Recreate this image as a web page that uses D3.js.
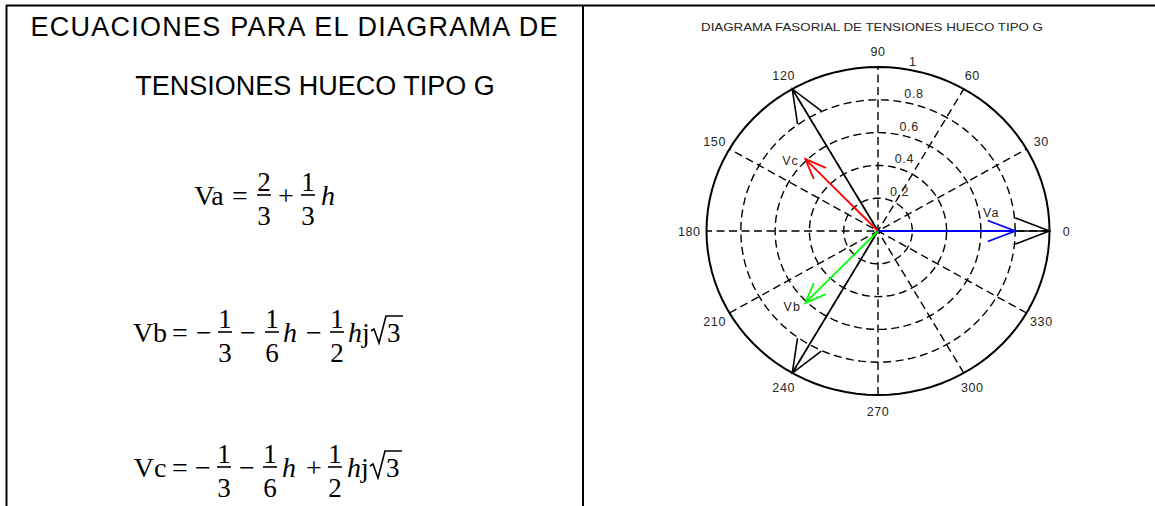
<!DOCTYPE html>
<html>
<head>
<meta charset="utf-8">
<script src="https://cdn.jsdelivr.net/npm/d3@7/dist/d3.min.js"></script>
<style>
    html, body { margin: 0; padding: 0; background: #fff; }
    svg { display: block; }
    .title-left { font-family: "Liberation Sans", Arial, sans-serif; fill: #000; }
    .eq { font-family: "Liberation Serif", "Times New Roman", serif; fill: #000; }
    .polar-text { font-family: "Liberation Sans", Arial, sans-serif; fill: #262626; }
</style>
</head>
<body>
<script>
// phasors during the sag (magnitude, angle in degrees)
var phasorNames  = ['Va', 'Vb', 'Vc'];
var phasorMag    = [0.80, 0.61, 0.61];
var phasorAng    = [0, 226, 134];
// where the phasor names sit (x, y in per-unit)
var phasorLabelX = [0.66, -0.50, -0.51];
var phasorLabelY = [0.11, -0.46, 0.43];

// pre-fault phasors
var prefaultMag  = [1, 1, 1];
var prefaultAng  = [0, 120, 240];

// grid
var ringValues   = [0.2, 0.4, 0.6, 0.8, 1];
var spokeAngles  = [30, 60, 90, 120, 150, 180];

var phasorColor  = { Va: '#0000ff', Vb: '#00ff00', Vc: '#ff0000' };

var W = 1155, H = 506;

var svg = d3.select('body').append('svg')
    .attr('width', W)
    .attr('height', H)
;

// table borders
svg.append('line').attr('x1', 6).attr('x2', W).attr('y1', 5.5).attr('y2', 5.5)
    .attr('stroke', '#000').attr('stroke-width', 2);
svg.append('line').attr('x1', 6.5).attr('x2', 6.5).attr('y1', 5).attr('y2', H)
    .attr('stroke', '#000').attr('stroke-width', 2);
svg.append('line').attr('x1', 583).attr('x2', 583).attr('y1', 5).attr('y2', H)
    .attr('stroke', '#000').attr('stroke-width', 2);

// ---------- left cell: title + equations ----------
svg.append('text')
    .attr('class', 'title-left')
    .attr('x', 294).attr('y', 36)
    .attr('text-anchor', 'middle')
    .attr('font-size', 27)
    .attr('textLength', 527)
    .attr('lengthAdjust', 'spacing')
    .text('ECUACIONES PARA EL DIAGRAMA DE');

svg.append('text')
    .attr('class', 'title-left')
    .attr('x', 315).attr('y', 95)
    .attr('text-anchor', 'middle')
    .attr('font-size', 27)
    .text('TENSIONES HUECO TIPO G');

function equation(baseline, tokens) {
    var g = svg.append('g').attr('class', 'eq');
    tokens.forEach(function (t) {
        if (t.frac) {
            g.append('line')
                .attr('x1', t.x - 7).attr('x2', t.x + 7)
                .attr('y1', baseline - 10).attr('y2', baseline - 10)
                .attr('stroke', '#000').attr('stroke-width', 1.6);
            g.append('text').attr('x', t.x).attr('y', baseline - 14)
                .attr('text-anchor', 'middle').attr('font-size', 27).text(t.frac[0]);
            g.append('text').attr('x', t.x).attr('y', baseline + 20)
                .attr('text-anchor', 'middle').attr('font-size', 27).text(t.frac[1]);
        } else if (t.sqrt) {
            var x0 = t.x;
            g.append('path')
                .attr('d', `M${ x0 } ${ baseline - 11 } L${ x0 + 3 } ${ baseline - 13 } L${ x0 + 8 } ${ baseline + 1 } L${ x0 + 15 } ${ baseline - 26 } L${ x0 + 32 } ${ baseline - 26 }`)
                .attr('fill', 'none').attr('stroke', '#000').attr('stroke-width', 1.6);
            g.append('text').attr('x', x0 + 16).attr('y', baseline)
                .attr('font-size', 27).text(t.sqrt);
        } else {
            g.append('text').attr('x', t.x).attr('y', baseline)
                .attr('text-anchor', t.anchor || 'middle')
                .attr('font-size', 28)
                .attr('font-style', t.it ? 'italic' : null)
                .text(t.s);
        }
    });
}

equation(205, [
    { s: 'Va', x: 209 },
    { s: '=', x: 240 },
    { frac: ['2', '3'], x: 264 },
    { s: '+', x: 286 },
    { frac: ['1', '3'], x: 308 },
    { s: 'h', x: 328, it: true }
]);

equation(342, [
    { s: 'Vb', x: 150 },
    { s: '=', x: 180 },
    { s: '\u2212', x: 204 },
    { frac: ['1', '3'], x: 225 },
    { s: '\u2212', x: 248 },
    { frac: ['1', '6'], x: 272 },
    { s: 'h', x: 290, it: true },
    { s: '\u2212', x: 314 },
    { frac: ['1', '2'], x: 337 },
    { s: 'h', x: 355, it: true },
    { s: 'j', x: 366 },
    { sqrt: '3', x: 371 }
]);

equation(477, [
    { s: 'Vc', x: 150 },
    { s: '=', x: 180 },
    { s: '\u2212', x: 203 },
    { frac: ['1', '3'], x: 224 },
    { s: '\u2212', x: 247 },
    { frac: ['1', '6'], x: 270 },
    { s: 'h', x: 289, it: true },
    { s: '+', x: 314 },
    { frac: ['1', '2'], x: 335 },
    { s: 'h', x: 354, it: true },
    { s: 'j', x: 365 },
    { sqrt: '3', x: 370 }
]);

// ---------- right cell: polar phasor diagram ----------
var cx = 878, cy = 231, rx = 171.5, ry = 164;
var x = d3.scaleLinear().domain([-1, 1]).range([cx - rx, cx + rx]);
var y = d3.scaleLinear().domain([-1, 1]).range([cy + ry, cy - ry]);
var rad = d => d * Math.PI / 180;

var polar = svg.append('g').attr('class', 'polar');

svg.append('text')
    .attr('class', 'polar-text')
    .attr('x', 872).attr('y', 31)
    .attr('text-anchor', 'middle')
    .attr('font-size', 10.5)
    .attr('textLength', 342)
    .attr('lengthAdjust', 'spacingAndGlyphs')
    .text('DIAGRAMA FASORIAL DE TENSIONES HUECO TIPO G');

var circlePts = d3.range(0, 101).map(i => [Math.cos(i * Math.PI / 50), Math.sin(i * Math.PI / 50)]);
var ringLine = r => d3.line()
    .x(p => x(r * p[0]))
    .y(p => y(r * p[1]))(circlePts);

// outer circle
polar.append('path')
    .attr('d', ringLine(1))
    .attr('fill', 'none').attr('stroke', '#000').attr('stroke-width', 2);

// dashed rings
polar.selectAll('.ring')
    .data(ringValues.filter(r => r < 1))
    .enter().append('path')
    .attr('class', 'ring')
    .attr('d', r => ringLine(r))
    .attr('fill', 'none').attr('stroke', '#000').attr('stroke-width', 1.4)
    .attr('stroke-dasharray', '8,4.5')
;

// dashed spokes
polar.selectAll('.spoke')
    .data(spokeAngles)
    .enter().append('line')
    .attr('class', 'spoke')
    .attr('x1', a => x(-Math.cos(rad(a)))).attr('y1', a => y(-Math.sin(rad(a))))
    .attr('x2', a => x(Math.cos(rad(a)))).attr('y2', a => y(Math.sin(rad(a))))
    .attr('stroke', '#000').attr('stroke-width', 1.4)
    .attr('stroke-dasharray', '8,4.5')
;

// ring labels at 82 degrees
polar.selectAll('.ring-label')
    .data(ringValues)
    .enter().append('text')
    .attr('class', 'polar-text ring-label')
    .attr('x', r => x((r + 0.01) * Math.cos(rad(82))) + 7)
    .attr('y', r => y((r + 0.01) * Math.sin(rad(82))) - 1)
    .attr('font-size', 12.5)
    .attr('letter-spacing', 0.6)
    .text(r => String(r))
;

// angle labels
var angleLabels = spokeAngles.concat(spokeAngles.map(a => (a + 180) % 360));
polar.selectAll('.angle-label')
    .data(angleLabels)
    .enter().append('text')
    .attr('class', 'polar-text angle-label')
    .attr('x', a => x(1.1 * Math.cos(rad(a))))
    .attr('y', a => y(1.1 * Math.sin(rad(a))))
    .attr('dy', '0.4em')
    .attr('text-anchor', 'middle')
    .attr('font-size', 12.5)
    .attr('letter-spacing', 0.6)
    .text(a => String(a))
;

// compass-style arrow: shaft, head at 0.8 of length, half width 0.08
function arrowPath(mag, ang) {
    var c = mag * Math.cos(rad(ang)), s = mag * Math.sin(rad(ang));
    var pts = [[0, 0], [1, 0], [0.8, 0.08], [1, 0], [0.8, -0.08]].map(p => [
        p[0] * c - p[1] * s,
        p[0] * s + p[1] * c
    ]);
    return d3.line().x(p => x(p[0])).y(p => y(p[1]))(pts);
}

polar.selectAll('.prefault')
    .data(d3.range(prefaultMag.length))
    .enter().append('path')
    .attr('class', 'prefault')
    .attr('d', i => arrowPath(prefaultMag[i], prefaultAng[i]))
    .attr('fill', 'none').attr('stroke', '#000').attr('stroke-width', 1.6)
;

polar.selectAll('.phasor')
    .data(d3.range(phasorNames.length))
    .enter().append('path')
    .attr('class', 'phasor')
    .attr('d', i => arrowPath(phasorMag[i], phasorAng[i]))
    .attr('fill', 'none')
    .attr('stroke', i => phasorColor[phasorNames[i]])
    .attr('stroke-width', 1.8)
;

polar.selectAll('.phasor-label')
    .data(d3.range(phasorNames.length))
    .enter().append('text')
    .attr('class', 'polar-text phasor-label')
    .attr('x', i => x(phasorLabelX[i]))
    .attr('y', i => y(phasorLabelY[i]))
    .attr('dy', '0.36em')
    .attr('text-anchor', 'middle')
    .attr('font-size', 12.5)
    .attr('letter-spacing', 1)
    .text(i => phasorNames[i])
;
</script>
</body>
</html>
